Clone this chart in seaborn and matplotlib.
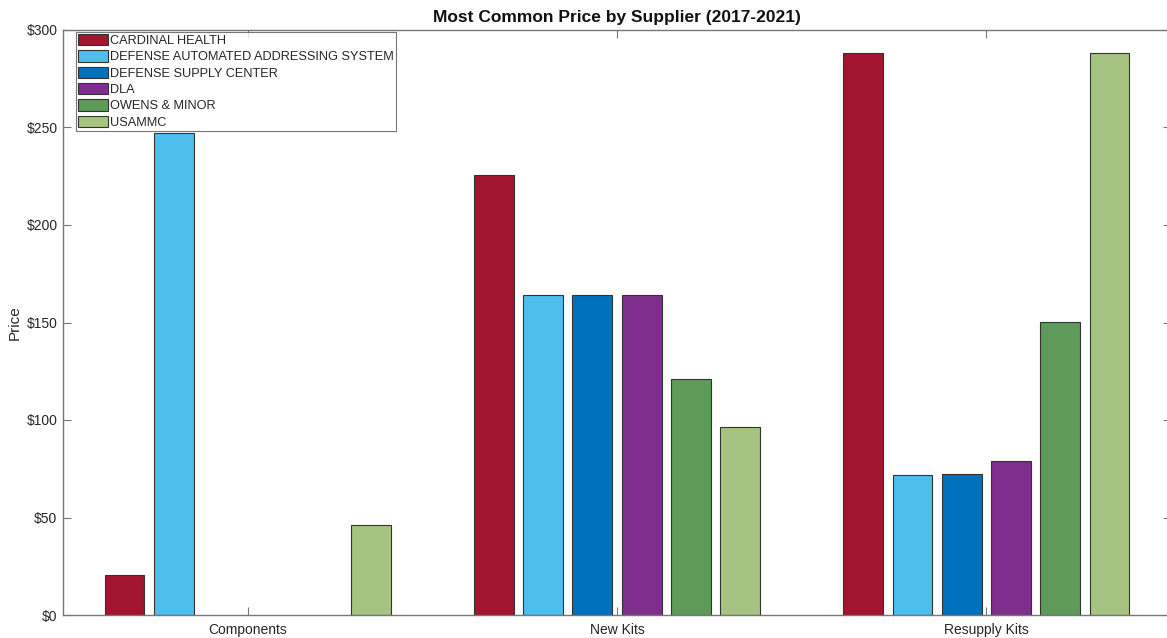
import numpy as np
import pandas as pd
import matplotlib
matplotlib.use("Agg")
import matplotlib.pyplot as plt
import matplotlib.ticker as mticker
import seaborn as sns

categories = ["Components", "New Kits", "Resupply Kits"]
suppliers = ["CARDINAL HEALTH", "DEFENSE AUTOMATED ADDRESSING SYSTEM",
             "DEFENSE SUPPLY CENTER", "DLA", "OWENS & MINOR", "USAMMC"]
cardinal = [20.3, 225.6, 288.2]
daas = [247.0, 164.3, 71.8]
dsc = [np.nan, 164.3, 72.1]
dla = [np.nan, 164.3, 78.8]
owens = [np.nan, 120.9, 150.1]
usammc = [46.0, 96.4, 288.2]
colors = ["#A2142F", "#4DBEEE", "#0072BD", "#7E2F8E", "#5E9A5A", "#A6C381"]

series = [cardinal, daas, dsc, dla, owens, usammc]
rows = []
for sup, vals in zip(suppliers, series):
    for cat, v in zip(categories, vals):
        rows.append({"Category": cat, "Supplier": sup, "Price": v})
df = pd.DataFrame(rows)

sns.set_theme(style="white")
plt.rcParams["font.family"] = ["Liberation Sans", "DejaVu Sans"]

fig = plt.figure(figsize=(11.67, 6.38), dpi=100)
ax = fig.add_axes([63/1167, 1-615/638, (1171-63)/1167, (615-30)/638])

sns.barplot(data=df, x="Category", y="Price", hue="Supplier",
            order=categories, hue_order=suppliers, palette=colors,
            saturation=1, width=0.8, gap=0.19, errorbar=None,
            edgecolor="#333333", linewidth=0.8, ax=ax)

ax.set_xlim(-0.5, 2.5)
ax.set_ylim(0, 300)
ax.set_yticks([0, 50, 100, 150, 200, 250, 300])
ax.yaxis.set_major_formatter(mticker.StrMethodFormatter("${x:,.0f}"))
ax.set_xlabel("")
ax.set_ylabel("Price", fontsize=11, color="#262626", labelpad=3)
ax.set_title("Most Common Price by Supplier (2017-2021)", fontsize=12.5,
             fontweight="bold", color="#111111", pad=6)

for s in ax.spines.values():
    s.set_visible(True)
    s.set_color("#777777")
    s.set_linewidth(1.0)
ax.tick_params(axis="both", which="major", direction="in", length=6,
               width=0.8, color="#777777", labelsize=10, labelcolor="#262626",
               top=True, right=True, bottom=True, left=True)
ax.tick_params(axis="y", pad=4)
ax.tick_params(axis="x", pad=6)

handles, labels = ax.get_legend_handles_labels()
leg = ax.legend(handles, labels, loc="upper left", bbox_to_anchor=(0.012, 0.997),
                fontsize=9.2, frameon=True, fancybox=False, edgecolor="#555555",
                handlelength=2.3, handleheight=1.0, handletextpad=0.2,
                labelspacing=0.26, borderpad=0.15, borderaxespad=0.0)
leg.get_frame().set_linewidth(0.8)

fig.savefig("out.png", dpi=100)
